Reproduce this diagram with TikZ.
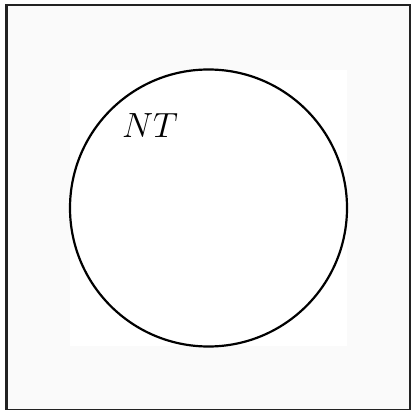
\documentclass[tikz,border=0pt]{standalone}
\usepackage{fix-cm}
\usepackage{tikz}
\definecolor{framefill}{HTML}{FAFAFA}
\definecolor{framedraw}{HTML}{222222}
\begin{document}
\begin{tikzpicture}[x=1pt,y=1pt,
  framebox/.style={draw=framedraw,line width=2.6pt,fill=framefill},
  innerbox/.style={fill=white,draw=none},
  setcircle/.style={circle,draw=black,line width=2.2pt,minimum size=277pt,inner sep=0pt},
  setlabel/.style={font=\fontsize{35}{40}\selectfont,inner sep=0pt}]
\useasboundingbox (0,0) rectangle (411,409);
\begin{scope}
\clip (0,0) rectangle (411,409);
\path[framebox] (6.5,-1.2) rectangle (410,404);
\end{scope}
\path[innerbox] (70,63) rectangle (347,339);
\node[setcircle] (nt) at (208.5,201) {};
\node[setlabel] (lbl) at (150,283) {$NT$};
\end{tikzpicture}
\end{document}
